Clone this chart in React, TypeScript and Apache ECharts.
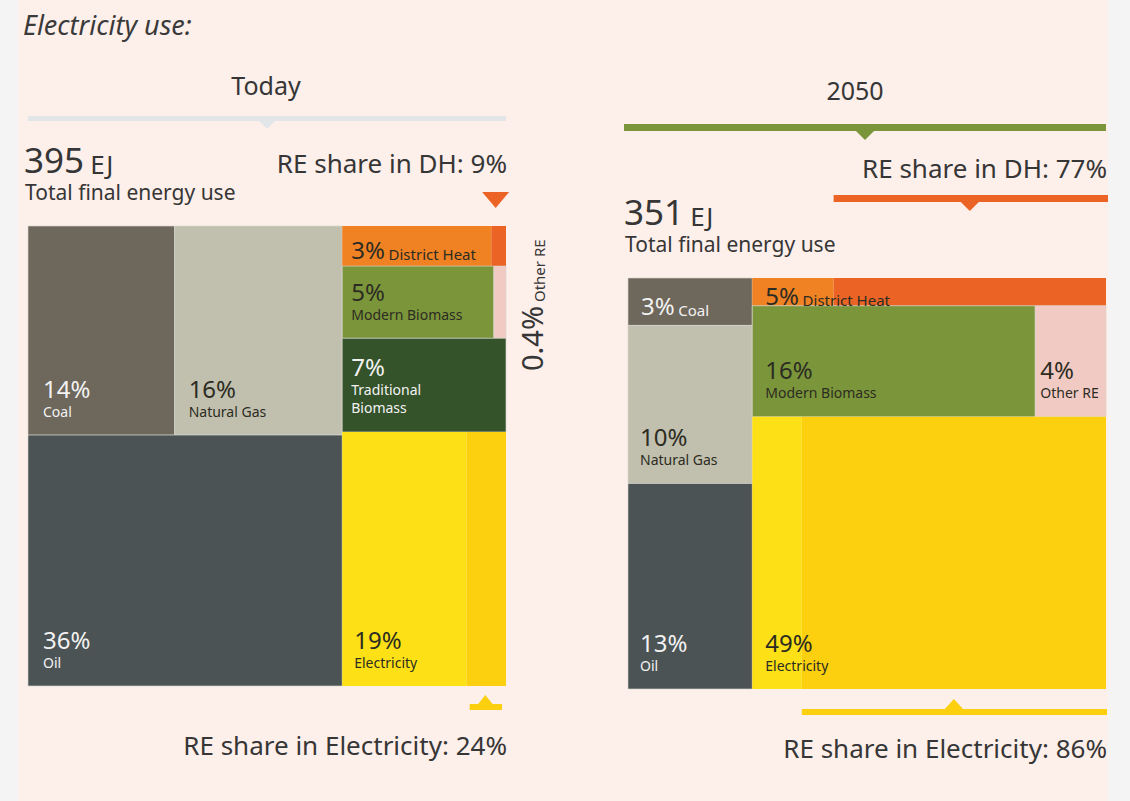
import React, { useEffect, useRef } from 'react';
import * as echarts from 'echarts';

// ---------------- data ----------------
const categories = ['Coal', 'Natural Gas', 'Oil', 'District Heat', 'Modern Biomass', 'Other RE', 'Traditional Biomass', 'Electricity'];
const todayShares = [14, 16, 36, 3, 5, 0.4, 7, 19];
const y2050Shares = [3, 10, 13, 5, 16, 4, 0, 49];
const todayTotalEJ = 395;
const y2050TotalEJ = 351;
const todayReShareDH = 9;
const todayReShareElec = 24;
const y2050ReShareDH = 77;
const y2050ReShareElec = 86;
const panelTitles = ['Today', '2050'];

// layout trees (indices into categories): 'h' = split side by side, 'v' = stacked
const todayTree: any = ['h', [['v', [['h', [0, 1]], 2]], ['v', [3, ['h', [4, 5]], 6, 7]]]];
const y2050Tree: any = ['h', [['v', [0, 1, 2]], ['v', [3, ['h', [4, 5]], 7]]]];

// label texts / modes per panel
const todayLabelText = ['Coal', 'Natural Gas', 'Oil', 'District Heat', 'Modern Biomass', null, 'Traditional\nBiomass', 'Electricity'];
const todayLabelMode = ['stack', 'stack', 'stack', 'inline', 'stack', null, 'stack', 'stack'];
const todayLabelDx = [15, 14, 15, 9, 9, 0, 9, 12];
const y2050LabelText = ['Coal', 'Natural Gas', 'Oil', 'District Heat', 'Modern Biomass', 'Other RE', null, 'Electricity'];
const y2050LabelMode = ['inline', 'stack', 'stack', 'inline', 'stack', 'stack', null, 'stack'];
const y2050LabelDx = [13, 12, 12, 13, 13, 5, 0, 13];

// ---------------- styles ----------------
const FONT = '"Noto Sans", sans-serif';
const catColors = ['#6e675b', '#c1c0ae', '#4b5355', '#f08224', '#7b953b', '#f2cac4', '#34532a', '#fde116'];
const reColors: Record<number, string> = { 3: '#eb6425', 7: '#fcd00f' };
const labelColors = ['#f2f2f2', '#2c2c22', '#f2f2f2', '#2c2c22', '#2c2c22', '#2c2c22', '#f2f2f2', '#2c2c22'];
const TEXT = '#363636';
const GRIDS = [
  { left: 28, top: 226, width: 478, height: 460 },
  { left: 628, top: 278, width: 478, height: 411 },
];
const DH = 3;
const ELEC = 7;

type Leaf = { idx: number; x: number; y: number; w: number; h: number };

function sumTree(t: any, shares: number[]): number {
  return typeof t === 'number' ? shares[t] : t[1].reduce((s: number, c: any) => s + sumTree(c, shares), 0);
}
function layout(t: any, shares: number[], x: number, y: number, w: number, h: number, out: Leaf[]) {
  if (typeof t === 'number') {
    out.push({ idx: t, x, y, w, h });
    return;
  }
  const [dir, kids] = t;
  const total = sumTree(t, shares);
  let off = 0;
  for (const k of kids) {
    const f = sumTree(k, shares) / total;
    if (dir === 'h') layout(k, shares, x + off * w, y, w * f, h, out);
    else layout(k, shares, x, y + off * h, w, h * f, out);
    off += f;
  }
}

function fmtPct(v: number) {
  return `${v}%`;
}

function buildSeries(tree: any, shares: number[], reDH: number, reElec: number, labText: any[], labMode: any[], labDx: number[], gridIndex: number) {
  const leaves: Leaf[] = [];
  layout(tree, shares, 0, 0, 100, 100, leaves);
  const data: number[][] = [];
  const cells: any[] = [];
  for (const lf of leaves) {
    const x0 = lf.x, y0 = lf.y, x1 = lf.x + lf.w, y1 = lf.y + lf.h;
    if (lf.idx === DH || lf.idx === ELEC) {
      const re = lf.idx === DH ? reDH : reElec;
      const xm = x0 + lf.w * (1 - re / 100);
      data.push([x0, y0, xm, y1]);
      cells.push({ kind: 'rect', fill: catColors[lf.idx] });
      data.push([xm, y0, x1, y1]);
      cells.push({ kind: 'rect', fill: reColors[lf.idx] });
    } else {
      data.push([x0, y0, x1, y1]);
      cells.push({ kind: 'rect', fill: catColors[lf.idx], stroke: true });
    }
  }
  for (const lf of leaves) {
    if (!labText[lf.idx]) continue;
    data.push([lf.x, lf.y, lf.x + lf.w, lf.y + lf.h]);
    cells.push({ kind: 'label', text: labText[lf.idx], mode: labMode[lf.idx], dx: labDx[lf.idx], pct: fmtPct(shares[lf.idx]), color: labelColors[lf.idx] });
  }
  return {
    leaves,
    series: {
      type: 'custom',
      xAxisIndex: gridIndex,
      yAxisIndex: gridIndex,
      clip: false,
      silent: true,
      data,
      renderItem: (params: any, api: any) => {
        const c = cells[params.dataIndex];
        const p0 = api.coord([api.value(0), api.value(1)]);
        const p1 = api.coord([api.value(2), api.value(3)]);
        const x = p0[0], y = p0[1], w = p1[0] - p0[0], h = p1[1] - p0[1];
        if (c.kind === 'rect') {
          return {
            type: 'rect',
            shape: { x, y, width: w, height: h },
            style: c.stroke ? { fill: c.fill, stroke: 'rgba(215,214,208,0.8)', lineWidth: 0.8 } : { fill: c.fill },
          };
        }
        const rich = {
          p: { fontSize: 24, fontFamily: FONT, fill: c.color, lineHeight: 31, verticalAlign: 'bottom' },
          n: { fontSize: 14, fontFamily: FONT, fill: c.color, lineHeight: 18, verticalAlign: 'bottom' },
          m: { fontSize: 15, fontFamily: FONT, fill: c.color, lineHeight: 24, verticalAlign: 'bottom' },
        };
        if (c.mode === 'inline') {
          return {
            type: 'text',
            x: x + c.dx,
            y: y + h / 2,
            style: { text: `{p|${c.pct}} {m|${c.text}}`, rich, fontSize: 14, fontFamily: FONT, fill: c.color, align: 'left', verticalAlign: 'middle' },
          };
        }
        const lines = String(c.text).split('\n').map((s) => `{n|${s}}`).join('\n');
        return {
          type: 'text',
          x: x + c.dx,
          y: y + h - 17,
          style: { text: `{p|${c.pct}}\n${lines}`, rich, fontSize: 14, fontFamily: FONT, fill: c.color, align: 'left', verticalAlign: 'bottom' },
        };
      },
    },
  };
}

function px(g: { left: number; width: number }, v: number) {
  return g.left + (v / 100) * g.width;
}

function buildOption() {
  const t = buildSeries(todayTree, todayShares, todayReShareDH, todayReShareElec, todayLabelText, todayLabelMode, todayLabelDx, 0);
  const f = buildSeries(y2050Tree, y2050Shares, y2050ReShareDH, y2050ReShareElec, y2050LabelText, y2050LabelMode, y2050LabelDx, 1);
  const gT = GRIDS[0], gF = GRIDS[1];
  const tDH = t.leaves.find((l) => l.idx === DH)!;
  const tEl = t.leaves.find((l) => l.idx === ELEC)!;
  const fDH = f.leaves.find((l) => l.idx === DH)!;
  const fEl = f.leaves.find((l) => l.idx === ELEC)!;
  const tDHre0 = px(gT, tDH.x + tDH.w * (1 - todayReShareDH / 100));
  const tDHre1 = px(gT, tDH.x + tDH.w);
  const tElre0 = px(gT, tEl.x + tEl.w * (1 - todayReShareElec / 100));
  const tElre1 = px(gT, tEl.x + tEl.w);
  const fDHre0 = px(gF, fDH.x + fDH.w * (1 - y2050ReShareDH / 100));
  const fDHre1 = px(gF, fDH.x + fDH.w);
  const fElre0 = px(gF, fEl.x + fEl.w * (1 - y2050ReShareElec / 100));
  const fElre1 = px(gF, fEl.x + fEl.w);

  const txt = (x: number, y: number, text: string, size: number, align = 'left', extra: any = {}) => ({
    type: 'text',
    x,
    y,
    silent: true,
    style: { text, fontSize: size, fontFamily: FONT, fill: TEXT, align, verticalAlign: 'middle', ...extra },
  });
  const bar = (x0: number, x1: number, y: number, h: number, color: string) => ({
    type: 'rect',
    silent: true,
    shape: { x: x0, y, width: x1 - x0, height: h },
    style: { fill: color },
  });
  const tri = (cx: number, yBase: number, yApex: number, hw: number, color: string) => ({
    type: 'polygon',
    silent: true,
    shape: { points: [[cx - hw, yBase], [cx + hw, yBase], [cx, yApex]] },
    style: { fill: color },
  });
  const bigRich = {
    a: { fontSize: 35, fontFamily: FONT, fill: TEXT, verticalAlign: 'bottom', lineHeight: 38 },
    b: { fontSize: 26, fontFamily: FONT, fill: TEXT, verticalAlign: 'bottom', lineHeight: 36 },
  };
  const tLeft = gT.left, tRight = gT.left + gT.width;
  const fLeft = gF.left, fRight = gF.left + gF.width;

  const graphic: any[] = [
    { type: 'rect', silent: true, shape: { x: 0, y: 0, width: 18, height: 801 }, style: { fill: '#f4f4f4' } },
    { type: 'rect', silent: true, shape: { x: 1108, y: 0, width: 22, height: 801 }, style: { fill: '#f4f4f4' } },
    txt(23, 24, 'Electricity use:', 27, 'left', { fontStyle: 'italic', fill: '#3a3a3a' }),
    // Today panel
    txt(266, 85, panelTitles[0], 25, 'center'),
    bar(tLeft, tRight, 116, 5, '#e3e6e8'),
    tri((tLeft + tRight) / 2, 120, 129, 9, '#e3e6e8'),
    { type: 'text', x: 24, y: 158, silent: true, style: { text: `{a|${todayTotalEJ}} {b|EJ}`, rich: bigRich, fontSize: 24, fontFamily: FONT, fill: TEXT, verticalAlign: 'middle' } },
    txt(25, 192, 'Total final energy use', 21),
    txt(tRight + 1, 163, `RE share in DH: ${todayReShareDH}%`, 26, 'right'),
    tri((tDHre0 + tDHre1) / 2 - 3, 192, 208, 13.5, '#eb6425'),
    {
      type: 'text', x: 531, y: 371, rotation: Math.PI / 2, silent: true,
      style: {
        text: `{a|${fmtPct(todayShares[5])}} {b|${categories[5]}}`,
        rich: {
          a: { fontSize: 29, fontFamily: FONT, fill: TEXT, verticalAlign: 'bottom', lineHeight: 30 },
          b: { fontSize: 15, fontFamily: FONT, fill: TEXT, verticalAlign: 'bottom', lineHeight: 27 },
        },
        fontSize: 15, fontFamily: FONT, fill: TEXT, align: 'left', verticalAlign: 'middle',
      },
    },
    bar(tElre0 + 3, tElre1 - 4, 704, 6, '#fcd00f'),
    tri((tElre0 + tElre1) / 2 - 1, 705, 695, 8, '#fcd00f'),
    txt(tRight + 1, 745, `RE share in Electricity: ${todayReShareElec}%`, 26, 'right'),
    // 2050 panel
    txt(855, 90, panelTitles[1], 25, 'center'),
    bar(fLeft - 4, fRight, 124, 7, '#7b953b'),
    tri((fLeft - 4 + fRight) / 2, 130, 140, 10, '#7b953b'),
    txt(fRight + 1, 168, `RE share in DH: ${y2050ReShareDH}%`, 26, 'right'),
    bar(fDHre0, fDHre1 + 2, 195, 7, '#eb6425'),
    tri((fDHre0 + fDHre1) / 2, 201, 211, 10, '#eb6425'),
    { type: 'text', x: 624, y: 210, silent: true, style: { text: `{a|${y2050TotalEJ}} {b|EJ}`, rich: bigRich, fontSize: 24, fontFamily: FONT, fill: TEXT, verticalAlign: 'middle' } },
    txt(625, 244, 'Total final energy use', 21),
    bar(fElre0, fElre1 + 1, 709, 6, '#fcd00f'),
    tri((fElre0 + fElre1) / 2, 710, 699, 10, '#fcd00f'),
    txt(fRight + 1, 748, `RE share in Electricity: ${y2050ReShareElec}%`, 26, 'right'),
  ];

  return {
    animation: false,
    backgroundColor: '#fdefea',
    grid: GRIDS.map((g) => ({ ...g })),
    xAxis: GRIDS.map((_, i) => ({ type: 'value', gridIndex: i, min: 0, max: 100, show: false })),
    yAxis: GRIDS.map((_, i) => ({ type: 'value', gridIndex: i, min: 0, max: 100, inverse: true, show: false })),
    series: [t.series, f.series],
    graphic,
  };
}

export default function App() {
  const ref = useRef<HTMLDivElement>(null);
  useEffect(() => {
    const chart = echarts.init(ref.current!, null, { renderer: 'svg' });
    chart.setOption(buildOption() as any);
    return () => chart.dispose();
  }, []);
  return <div ref={ref} style={{ position: 'fixed', left: 0, top: 0, width: 1130, height: 801 }} />;
}
